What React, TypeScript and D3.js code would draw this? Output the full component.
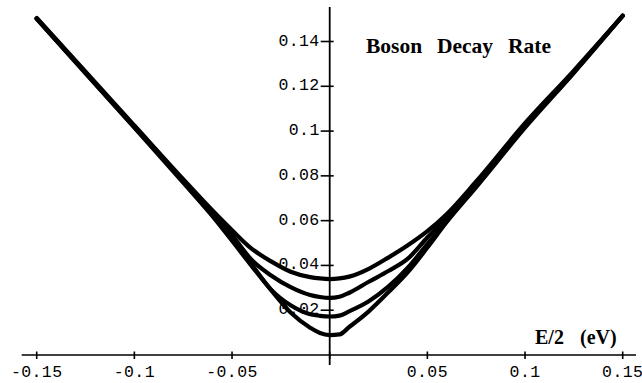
import React from "react";
import * as d3 from "d3";

const energies = [-0.15, -0.125, -0.1, -0.075, -0.06, -0.05, -0.04, -0.03, -0.02, -0.01, -0.005, 0, 0.005, 0.01, 0.02, 0.03, 0.04, 0.05, 0.06, 0.075, 0.1, 0.125, 0.15];

const rate1 = [0.1505, 0.1265, 0.1025, 0.0785, 0.0645, 0.0557, 0.0475, 0.0418, 0.0372, 0.0348, 0.0342, 0.0339, 0.0342, 0.035, 0.0385, 0.0435, 0.049, 0.0553, 0.063, 0.0775, 0.1035, 0.127, 0.1515];
const rate2 = [0.1503, 0.1262, 0.102, 0.078, 0.0635, 0.0535, 0.0425, 0.0355, 0.0303, 0.0268, 0.0259, 0.0255, 0.026, 0.0278, 0.0327, 0.0375, 0.043, 0.0525, 0.0615, 0.0765, 0.1025, 0.1265, 0.1515];
const rate3 = [0.1502, 0.126, 0.1018, 0.0775, 0.0625, 0.052, 0.0405, 0.0292, 0.0222, 0.0182, 0.0175, 0.0172, 0.0176, 0.0195, 0.024, 0.0305, 0.039, 0.0495, 0.06, 0.0755, 0.102, 0.1262, 0.1515];
const rate4 = [0.1501, 0.1258, 0.1015, 0.077, 0.062, 0.051, 0.0398, 0.029, 0.019, 0.0122, 0.0098, 0.0089, 0.0092, 0.0125, 0.0195, 0.028, 0.037, 0.048, 0.0595, 0.075, 0.1015, 0.126, 0.1515];

const series = [rate1, rate2, rate3, rate4];

const xTicks = [-0.15, -0.1, -0.05, 0, 0.05, 0.1, 0.15];
const xTickLabels = ["-0.15", "-0.1", "-0.05", "", "0.05", "0.1", "0.15"];
const yTicks = [0.02, 0.04, 0.06, 0.08, 0.1, 0.12, 0.14];
const yTickLabels = ["0.02", "0.04", "0.06", "0.08", "0.1", "0.12", "0.14"];

const titleWords = ["Boson", "Decay", "Rate"];
const axisLabelWords = ["E/2", "(eV)"];

export default function App() {
  const W = 642;
  const H = 383;
  const x = d3.scaleLinear().domain([-0.15, 0.15]).range([36.7, 622.7]);
  const y = d3.scaleLinear().domain([0, 0.14]).range([355, 41.5]);
  const x0 = x(0);
  const y0 = y(0);

  const line = d3
    .line<number>()
    .x((_, i) => x(energies[i]))
    .y((d) => y(d))
    .curve(d3.curveMonotoneX);

  const mono = "'Liberation Mono', 'Courier New', monospace";
  const serif = "'Liberation Serif', 'Times New Roman', serif";

  const titleX = [366, 437, 508];
  const labelX = [535, 580];

  return (
    <svg
      width={W}
      height={H}
      viewBox={`0 0 ${W} ${H}`}
      style={{ position: "absolute", left: 0, top: 0, background: "#fff" }}
    >
      <rect x={0} y={0} width={W} height={H} fill="#fff" />
      {/* axes */}
      <line x1={21.7} x2={636} y1={y0} y2={y0} stroke="#000" strokeWidth={1.6} />
      <line x1={x0} x2={x0} y1={7} y2={365} stroke="#000" strokeWidth={1.8} />
      {xTicks.map((t, i) => (
        <g key={"xt" + i}>
          <line x1={x(t)} x2={x(t)} y1={y0 - 3.5} y2={y0 + 4} stroke="#000" strokeWidth={1.6} />
          {xTickLabels[i] && (
            <text
              x={x(t)}
              y={377}
              textAnchor="middle"
              fontFamily={mono}
              fontSize={16.5}
              letterSpacing={0.4}
              fill="#000"
            >
              {xTickLabels[i]}
            </text>
          )}
        </g>
      ))}
      {yTicks.map((t, i) => (
        <g key={"yt" + i}>
          <line x1={x0 - 9} x2={x0 + 4} y1={y(t)} y2={y(t)} stroke="#000" strokeWidth={1.6} />
          <text
            x={x0 - 10}
            y={y(t) + 4}
            textAnchor="end"
            fontFamily={mono}
            fontSize={16.5}
            letterSpacing={0.4}
            fill="#000"
          >
            {yTickLabels[i]}
          </text>
        </g>
      ))}
      {/* curves */}
      {series.map((s, i) => (
        <path
          key={"s" + i}
          d={line(s) || ""}
          fill="none"
          stroke="#000"
          strokeWidth={4.2}
          strokeLinecap="round"
          strokeLinejoin="round"
        />
      ))}
      {/* title */}
      {titleWords.map((w, i) => (
        <text
          key={"tw" + i}
          x={titleX[i]}
          y={53}
          fontFamily={serif}
          fontWeight="bold"
          fontSize={21.5}
          fill="#000"
        >
          {w}
        </text>
      ))}
      {axisLabelWords.map((w, i) => (
        <text
          key={"aw" + i}
          x={labelX[i]}
          y={344}
          fontFamily={serif}
          fontWeight="bold"
          fontSize={20}
          fill="#000"
        >
          {w}
        </text>
      ))}
    </svg>
  );
}
